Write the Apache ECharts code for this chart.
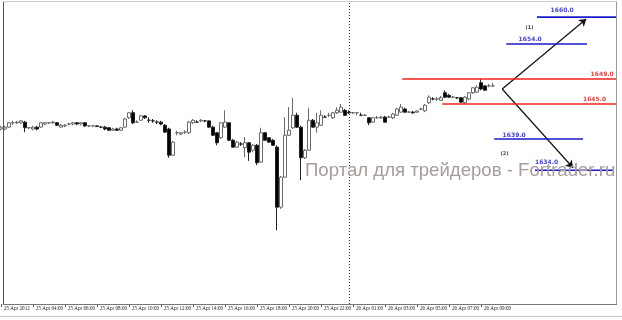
<!DOCTYPE html>
<html><head><meta charset="utf-8">
<script src="https://cdn.jsdelivr.net/npm/echarts@6/dist/echarts.min.js"></script>
<style>html,body{margin:0;padding:0;background:#fff}#c{width:622px;height:320px}</style>
</head><body><div id="c"></div>
<script>
// x-axis tick labels, one every 8 bars (M15 chart)
const tickLabels = ['25 Apr 2012','25 Apr 04:00','25 Apr 06:00','25 Apr 08:00','25 Apr 10:00','25 Apr 12:00','25 Apr 14:00','25 Apr 16:00','25 Apr 18:00','25 Apr 20:00','25 Apr 22:00','26 Apr 01:00','26 Apr 03:00','26 Apr 05:00','26 Apr 07:00','26 Apr 09:00'];
const slotCount = 155;            // bar slots on the axis (bars + empty right margin)
const separatorBar = 87;          // day separator
// candles: [open, close, low, high]
const candles = [
[1641.0,1641.3,1640.8,1641.5],[1641.0,1641.3,1640.8,1641.5],[1641.3,1642.0,1641.2,1642.1],[1642.0,1642.0,1641.6,1642.3],
[1642.0,1642.1,1641.8,1642.3],[1642.0,1642.3,1641.8,1642.4],[1642.1,1641.2,1640.5,1642.3],[1641.2,1641.2,1641.0,1641.3],
[1641.0,1641.3,1640.8,1641.5],[1641.3,1641.0,1640.8,1641.5],[1641.3,1642.0,1641.2,1642.1],[1641.8,1642.0,1641.6,1642.1],
[1642.0,1642.0,1641.8,1642.1],[1642.0,1642.1,1641.8,1642.3],[1642.0,1641.6,1641.5,1642.1],[1641.3,1641.6,1641.2,1641.8],
[1641.5,1641.6,1641.3,1641.8],[1641.8,1641.8,1641.6,1642.0],[1641.8,1642.0,1641.6,1642.1],[1642.0,1641.8,1641.6,1642.1],
[1641.8,1642.0,1641.6,1642.1],[1642.0,1641.5,1641.3,1642.1],[1641.5,1641.5,1641.3,1641.6],[1641.5,1641.5,1641.3,1641.6],
[1641.5,1641.4,1641.3,1641.6],[1641.3,1641.3,1641.2,1641.5],[1641.3,1641.0,1640.8,1641.5],[1641.2,1640.8,1640.7,1641.3],
[1640.8,1641.0,1640.7,1641.2],[1641.0,1640.8,1640.7,1641.2],[1640.8,1641.2,1640.7,1641.3],[1641.3,1642.6,1641.2,1642.8],
[1642.8,1643.6,1642.6,1643.7],[1643.6,1642.0,1641.8,1644.0],[1642.1,1642.1,1642.0,1642.4],[1642.4,1643.1,1642.3,1643.2],
[1643.1,1642.8,1642.6,1643.2],[1642.4,1642.4,1642.0,1642.9],[1642.3,1642.3,1642.0,1642.6],[1642.1,1642.1,1641.8,1642.4],
[1642.1,1641.8,1641.6,1642.3],[1641.6,1640.5,1640.4,1641.8],[1641.0,1636.8,1636.4,1641.2],[1636.8,1638.9,1636.7,1639.1],
[1640.4,1640.4,1640.0,1640.7],[1640.2,1640.4,1640.0,1640.5],[1640.5,1640.5,1640.2,1640.8],[1640.4,1642.1,1640.2,1642.3],
[1642.0,1642.4,1641.8,1642.6],[1642.1,1642.1,1642.0,1642.4],[1642.3,1642.4,1642.1,1642.6],[1642.3,1642.3,1642.1,1642.4],
[1642.3,1641.3,1641.2,1642.4],[1641.3,1640.0,1639.9,1641.5],[1640.4,1638.8,1638.4,1640.5],[1639.6,1642.0,1639.4,1642.1],
[1641.3,1642.1,1641.2,1644.0],[1642.0,1639.2,1639.1,1642.1],[1639.2,1638.1,1638.0,1639.4],[1638.1,1638.9,1638.0,1639.1],
[1638.6,1638.6,1638.3,1638.9],[1638.0,1638.8,1636.5,1639.7],[1638.8,1637.3,1635.9,1638.9],[1637.6,1638.4,1637.3,1638.6],
[1638.4,1635.6,1635.2,1638.6],[1635.7,1640.4,1635.6,1641.2],[1640.4,1639.2,1639.1,1640.5],[1639.6,1638.9,1638.8,1639.7],
[1639.2,1638.4,1638.3,1639.4],[1638.1,1628.5,1624.8,1638.4],[1628.5,1633.3,1628.2,1633.5],[1633.3,1640.0,1633.2,1642.9],
[1640.0,1640.8,1639.9,1644.5],[1641.2,1643.2,1641.0,1646.0],[1643.2,1641.3,1641.2,1643.6],[1641.3,1636.4,1632.8,1641.5],
[1636.4,1637.6,1636.2,1637.8],[1637.6,1642.4,1637.5,1644.4],[1642.4,1641.3,1641.2,1642.6],[1641.3,1642.0,1640.4,1643.6],
[1641.6,1643.2,1641.5,1644.0],[1642.9,1642.9,1642.8,1643.2],[1643.2,1643.2,1642.9,1643.6],[1642.8,1643.6,1642.6,1643.7],
[1643.6,1644.0,1643.4,1644.5],[1643.7,1644.5,1643.6,1645.0],[1644.0,1643.2,1643.1,1644.2],[1643.7,1643.6,1643.4,1644.0],
[1643.6,1643.6,1643.4,1643.7],[1643.6,1643.6,1643.2,1643.7],[1643.2,1643.2,1643.1,1643.6],[1643.2,1643.2,1643.1,1643.4],
[1642.8,1642.0,1641.6,1642.9],[1642.1,1642.8,1642.0,1642.9],[1642.8,1642.8,1642.6,1643.1],[1642.8,1642.9,1642.6,1643.1],
[1642.9,1642.1,1642.0,1643.1],[1642.9,1642.9,1642.8,1643.1],[1642.8,1643.4,1642.6,1643.6],[1643.2,1644.2,1643.1,1644.4],
[1643.7,1644.5,1643.6,1645.0],[1644.2,1643.7,1643.6,1644.4],[1643.7,1643.7,1643.6,1643.9],[1643.7,1643.6,1643.4,1643.9],
[1643.7,1643.9,1643.6,1644.0],[1644.2,1644.2,1644.0,1644.4],[1643.9,1644.8,1643.7,1645.0],[1645.2,1646.1,1645.0,1646.4],
[1645.8,1645.8,1645.6,1646.1],[1645.8,1645.8,1645.5,1646.1],[1645.6,1646.0,1645.5,1646.3],[1646.8,1646.1,1646.0,1647.2],
[1646.4,1646.1,1646.0,1646.6],[1646.1,1646.1,1646.0,1646.3],[1646.0,1646.0,1645.8,1646.1],[1646.0,1645.3,1645.2,1646.1],
[1645.2,1646.1,1645.0,1646.3],[1645.8,1646.8,1645.6,1646.9],[1646.8,1647.6,1646.6,1647.7],[1646.9,1647.7,1646.8,1648.0],
[1648.4,1647.4,1647.2,1649.0],[1647.9,1647.2,1647.1,1648.0],[1647.9,1647.9,1647.7,1648.2],[1647.9,1647.9,1647.7,1648.4]
];
// drawn horizontal levels: label, price, from bar, to bar, colour group, label anchor
const levels = [
  {label:'1660.0', value:1658.9, from:134, to:153.8, kind:'blue', lx:140.3, ly:1659.9},
  {label:'1654.0', value:1654.6, from:126.3, to:146.5, kind:'blue', lx:132.3, ly:1655.4},
  {label:'1649.0', value:1649.0, from:100.3, to:153.8, kind:'red', lx:150.3, ly:1649.8},
  {label:'1645.0', value:1645.0, from:110.3, to:153.8, kind:'red', lx:148.4, ly:1645.8},
  {label:'1639.0', value:1639.4, from:123.3, to:145.5, kind:'blue', lx:128.3, ly:1640.0},
  {label:'1634.0', value:1634.4, from:133.5, to:153.0, kind:'blue', lx:136.4, ly:1635.6}
];
const scenarioNotes = [{label:'(1)', x:132.1, y:1657.2},{label:'(2)', x:125.9, y:1637.0}];
// forecast arrows: [from bar, from price] -> [to bar, to price]
const arrows = [
  [[125.3,1647.4],[146.3,1658.6]],
  [[125.3,1647.4],[143.0,1634.8]]
];
const watermark = 'Портал для трейдеров - Fortrader.ru';

const categories = Array.from({length: slotCount}, (_, i) => String(i));
const colors = {blue:{line:'#1a1acc', text:'#0a0ab0'}, red:{line:'#f02020', text:'#d01010'}};

const chart = echarts.init(document.getElementById('c'), null, {renderer:'canvas'});
const series = [{
  type:'candlestick', data:candles, xAxisIndex:0, yAxisIndex:0, barWidth:3,
  itemStyle:{color:'#ffffff', color0:'#000000', borderColor:'#6a6a6a', borderColor0:'#222222', borderWidth:1},
  markLine:{silent:true, symbol:'none', label:{show:false},
    lineStyle:{type:[1,2], color:'#333', width:1},
    data:[{xAxis:separatorBar}]}
}];
levels.forEach(l => {
  series.push({type:'line', xAxisIndex:1, yAxisIndex:0, symbol:'none', silent:true,
    data:[[l.from, l.value],[l.to, l.value]],
    lineStyle:{color:colors[l.kind].line, width:1.6}});
});
series.push({type:'lines', coordinateSystem:'cartesian2d', xAxisIndex:1, yAxisIndex:0, silent:true,
  symbol:['none','arrow'], symbolSize:7,
  lineStyle:{color:'#111', width:1.2, opacity:1},
  data:arrows.map(a => ({coords:a}))});
series.push({type:'scatter', xAxisIndex:1, yAxisIndex:0, symbolSize:0, silent:true,
  data: levels.map(l => ({name:l.label, value:[l.lx, l.ly],
      label:{color:colors[l.kind].text}}))
    .concat(scenarioNotes.map(n => ({name:n.label, value:[n.x, n.y], label:{color:'#111', fontSize:5}}))),
  label:{show:true, position:'inside', formatter:'{b}', fontFamily:'DejaVu Sans', fontWeight:'bold', fontSize:6}});

chart.setOption({
  animation:false,
  backgroundColor:'#ffffff',
  grid:{left:1, right:5, top:3, bottom:16, containLabel:false},
  xAxis:[{
    type:'category', data:categories, boundaryGap:false,
    axisLine:{show:false},
    axisTick:{show:true, length:3, lineStyle:{color:'#555'},
      interval:(i) => i % 8 === 0 && i / 8 < tickLabels.length},
    axisLabel:{show:true, align:'left', padding:[0,0,0,3], margin:2,
      fontSize:5.1, fontFamily:'Liberation Sans Narrow', color:'#222',
      interval:(i) => i % 8 === 0 && i / 8 < tickLabels.length,
      formatter:(v, i) => tickLabels[i / 8] || ''},
    splitLine:{show:false}
  },{
    type:'value', min:0, max:slotCount - 1, show:false
  }],
  yAxis:[{type:'value', min:1613.0, max:1661.16, show:false, splitLine:{show:false}}],
  series:series,
  graphic:[
    {type:'line', shape:{x1:3.5, y1:2, x2:3.5, y2:304}, style:{stroke:'#555', lineWidth:1}, z:100},
    {type:'line', shape:{x1:3, y1:1.5, x2:617, y2:1.5}, style:{stroke:'#cfcfcf', lineWidth:1}, z:100},
    {type:'line', shape:{x1:616.5, y1:2, x2:616.5, y2:304}, style:{stroke:'#999', lineWidth:1}, z:100},
    {type:'line', shape:{x1:3, y1:304.5, x2:617, y2:304.5}, style:{stroke:'#777', lineWidth:1}, z:100},
    {type:'line', shape:{x1:0, y1:316.5, x2:622, y2:316.5}, style:{stroke:'#c8c8c8', lineWidth:1}, z:100},
    {type:'text', left:305, top:161, z:50, silent:true,
      style:{text:watermark, font:'18.6px "Liberation Sans"', fill:'#a89b9b'}}
  ]
});
</script></body></html>
